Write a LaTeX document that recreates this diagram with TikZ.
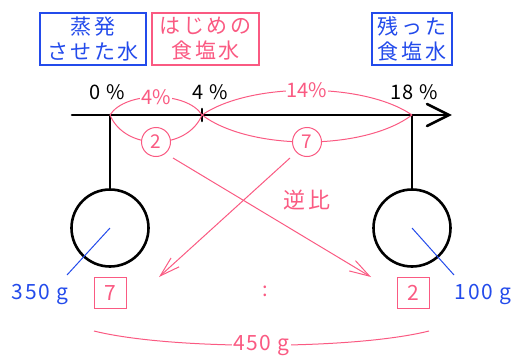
\documentclass[tikz,border=0pt]{standalone}
\usepackage{fontspec}
\setmainfont{Noto Sans CJK JP}
\usetikzlibrary{arrows.meta}
\definecolor{pk}{RGB}{250,90,130}
\definecolor{bl}{RGB}{35,75,235}
\tikzset{
  jbox/.style={draw=#1,text=#1,line width=1.3pt,align=center,inner sep=0pt,font=\fontsize{21}{25}\selectfont\addfontfeature{LetterSpace=12}},
  pct/.style={font=\fontsize{20}{22}\selectfont\addfontfeature{LetterSpace=6}},
  pklab/.style={text=pk,font=\fontsize{20}{22}\selectfont,fill=white,inner sep=1pt},
  circlab/.style={circle,draw=pk,text=pk,line width=1pt,fill=white,minimum size=29pt,inner sep=0pt,font=\fontsize{19}{20}\selectfont},
  pkline/.style={draw=pk,line width=1pt},
  blline/.style={draw=bl,line width=1pt},
  thk/.style={line width=2.6pt,line cap=round},
  arr/.style={pkline,-{Straight Barb[length=20pt,width=12pt,line width=1pt]}},
  rbox/.style={draw=pk,text=pk,line width=1pt,minimum width=32pt,minimum height=31pt,inner sep=0pt,font=\fontsize{21}{22}\selectfont},
  gram/.style={text=bl,font=\fontsize{21}{24}\selectfont\addfontfeature{LetterSpace=8}}
}
\begin{document}
\begin{tikzpicture}[x=1pt,y=-1pt]
\useasboundingbox (0,0) rectangle (514,361);
% header boxes
\node[jbox=bl,minimum width=106pt,minimum height=52pt] (b1) at (93,39) {蒸発\\させた水};
\node[jbox=pk,minimum width=107pt,minimum height=52pt] (b2) at (205.5,39) {はじめの\\食塩水};
\node[jbox=bl,minimum width=80pt,minimum height=52pt] (b3) at (412,39) {残った\\食塩水};
% percent labels
\node[pct] (p0) at (107,92) {0 \%};
\node[pct] (p4) at (210,92) {4 \%};
\node[pct] (p18) at (414,92) {18 \%};
% axis
\coordinate (a0) at (72,115);
\coordinate (aend) at (449,115);
\coordinate (t0) at (110,115);
\coordinate (t4) at (202,115);
\coordinate (t18) at (412,115);
\draw[thk] (a0) -- (aend);
\draw[thk] (427,104) -- (aend) -- (427,126);
\draw[thk] (202,109) -- (202,121);
% weights
\node[circle,draw,line width=2.6pt,minimum size=77pt,inner sep=0pt] (cL) at (110,228) {};
\node[circle,draw,line width=2.6pt,minimum size=77pt,inner sep=0pt] (cR) at (412,228) {};
\draw[thk] (t0) -- (cL.north);
\draw[thk] (t18) -- (cR.north);
% arcs
\draw[pkline] (t0) .. controls (125,91) and (187,91) .. node[pklab,pos=0.5] (l4) {4\%} (t4);
\draw[pkline] (t0) .. controls (125,151) and (187,151) .. node[circlab,pos=0.5] (c2) {2} (t4);
\draw[pkline] (t4) .. controls (250,82) and (364,82) .. node[pklab,pos=0.5] (l14) {14\%} (t18);
\draw[pkline] (t4) .. controls (250,151) and (364,151) .. node[circlab,pos=0.5] (c7) {7} (t18);
% cross arrows
\coordinate (s2) at (173,158);
\coordinate (e2) at (371,277);
\coordinate (s7) at (290,158);
\coordinate (e7) at (159,277);
\draw[arr] (s2) -- (e2);
\draw[arr] (s7) -- (e7);
\node[text=pk,font=\fontsize{22}{24}\selectfont\addfontfeature{LetterSpace=14}] (gyaku) at (307,200) {逆比};
% ratio boxes
\node[rbox] (r7) at (110.5,293) {7};
\node[rbox] (r2) at (413,293) {2};
\node[text=pk,font=\fontsize{20}{22}\selectfont] (colon) at (265,291) {:};
% grams
\node[gram] (g350) at (40,294) {350 g};
\node[gram] (g100) at (483,294) {100 g};
\coordinate (bl1) at (67,275);
\coordinate (bl2) at (454,275);
\draw[blline] (cL.center) -- (bl1);
\draw[blline] (cR.center) -- (bl2);
% total
\coordinate (tl) at (94,331);
\coordinate (tr) at (429,331);
\draw[pkline] (tl) .. controls (170,350) and (353,350) .. node[pklab,pos=0.5,font=\fontsize{21}{24}\selectfont\addfontfeature{LetterSpace=8}] (g450) {450 g} (tr);
\end{tikzpicture}
\end{document}
